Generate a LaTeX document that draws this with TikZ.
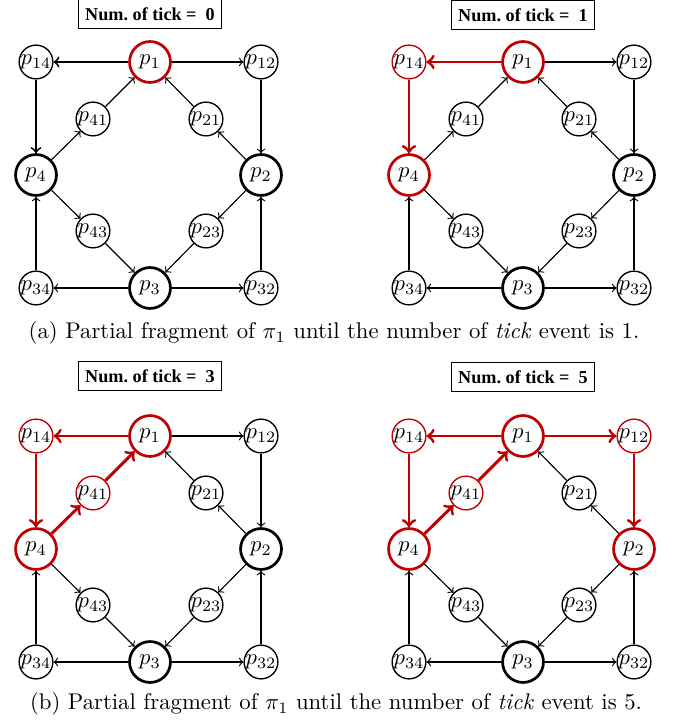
\documentclass[tikz,border=0pt]{standalone}
\usepackage{amsmath}
\usepackage{amssymb}
\usepackage{fontspec}
\newfontfamily\titlefont{Liberation Serif}
\definecolor{hotred}{RGB}{192,0,0}
\tikzset{
  state/.style={circle,draw,very thick,minimum size=18pt,inner sep=0pt},
  sub/.style={circle,draw,semithick,minimum size=12.3pt,inner sep=0pt},
  hot/.style={draw=hotred},
  cold/.style={},
  edge/.style={->,line width=0.5pt},
  boldedge/.style={->,thick},
  hotedge/.style={->,line width=1.3pt,draw=hotred},
  tickbox/.style={draw,semithick,font=\titlefont\bfseries\footnotesize,inner xsep=3pt,minimum height=12.5pt}
}
\begin{document}
\begin{tikzpicture}[x=0.44pt,y=-0.44pt]
    \useasboundingbox (0,0) rectangle (675,722);
    \foreach \s/\tick/\ox/\oy/\ty in {0/0/150/62/-48, 1/1/523/62/-47, 2/3/150/436/-60, 3/5/523/436/-59}{
    \begin{scope}[shift={(\ox,\oy)},name prefix=g\s-]
        % what is red at this tick
        \ifnum\s>0 \def\nA{hot}\def\eA{hotedge}\else\def\nA{cold}\def\eA{boldedge}\fi
        \ifnum\s>1 \def\nB{hot}\def\eB{hotedge}\else\def\nB{cold}\def\eB{edge}\fi
        \ifnum\s>2 \def\nC{hot}\def\eC{hotedge}\else\def\nC{cold}\def\eC{edge}\fi
        \node[tickbox] (title) at (0,\ty) {Num.\ of tick =\ \ \tick};
        % places
        \node[state,hot] (p1) at (0,0) {$p_1$};
        \node[state,\nC] (p2) at (111,113) {$p_2$};
        \node[state] (p3) at (0,226) {$p_3$};
        \node[state,\nA] (p4) at (-114,113) {$p_4$};
        \node[sub,\nA] (p14) at (-114,0) {$p_{14}$};
        \node[sub,\nC] (p12) at (111,0) {$p_{12}$};
        \node[sub,\nB] (p41) at (-57,57) {$p_{41}$};
        \node[sub] (p21) at (56,57) {$p_{21}$};
        \node[sub] (p43) at (-57,169) {$p_{43}$};
        \node[sub] (p23) at (56,169) {$p_{23}$};
        \node[sub] (p34) at (-114,226) {$p_{34}$};
        \node[sub] (p32) at (111,226) {$p_{32}$};
        % arcs
        \draw[\eA] (p1) -- (p14);
        \draw[\eA] (p14) -- (p4);
        \draw[\eB] (p4) -- (p41);
        \draw[\eB] (p41) -- (p1);
        \draw[\eC] (p1) -- (p12);
        \draw[\eC] (p12) -- (p2);
        \draw[edge] (p2) -- (p21);
        \draw[edge] (p21) -- (p1);
        \draw[edge] (p2) -- (p23);
        \draw[edge] (p23) -- (p3);
        \draw[edge] (p4) -- (p43);
        \draw[edge] (p43) -- (p3);
        \draw[edge] (p3) -- (p34);
        \draw[edge] (p34) -- (p4);
        \draw[edge] (p3) -- (p32);
        \draw[edge] (p32) -- (p2);
    \end{scope}
    }
    % captions
    \node (capa) at (334,333) {(a) Partial fragment of $\pi_1$ until the number of \textit{tick} event is 1.};
    \node (capb) at (336,704) {(b) Partial fragment of $\pi_1$ until the number of \textit{tick} event is 5.};
\end{tikzpicture}
\end{document}
